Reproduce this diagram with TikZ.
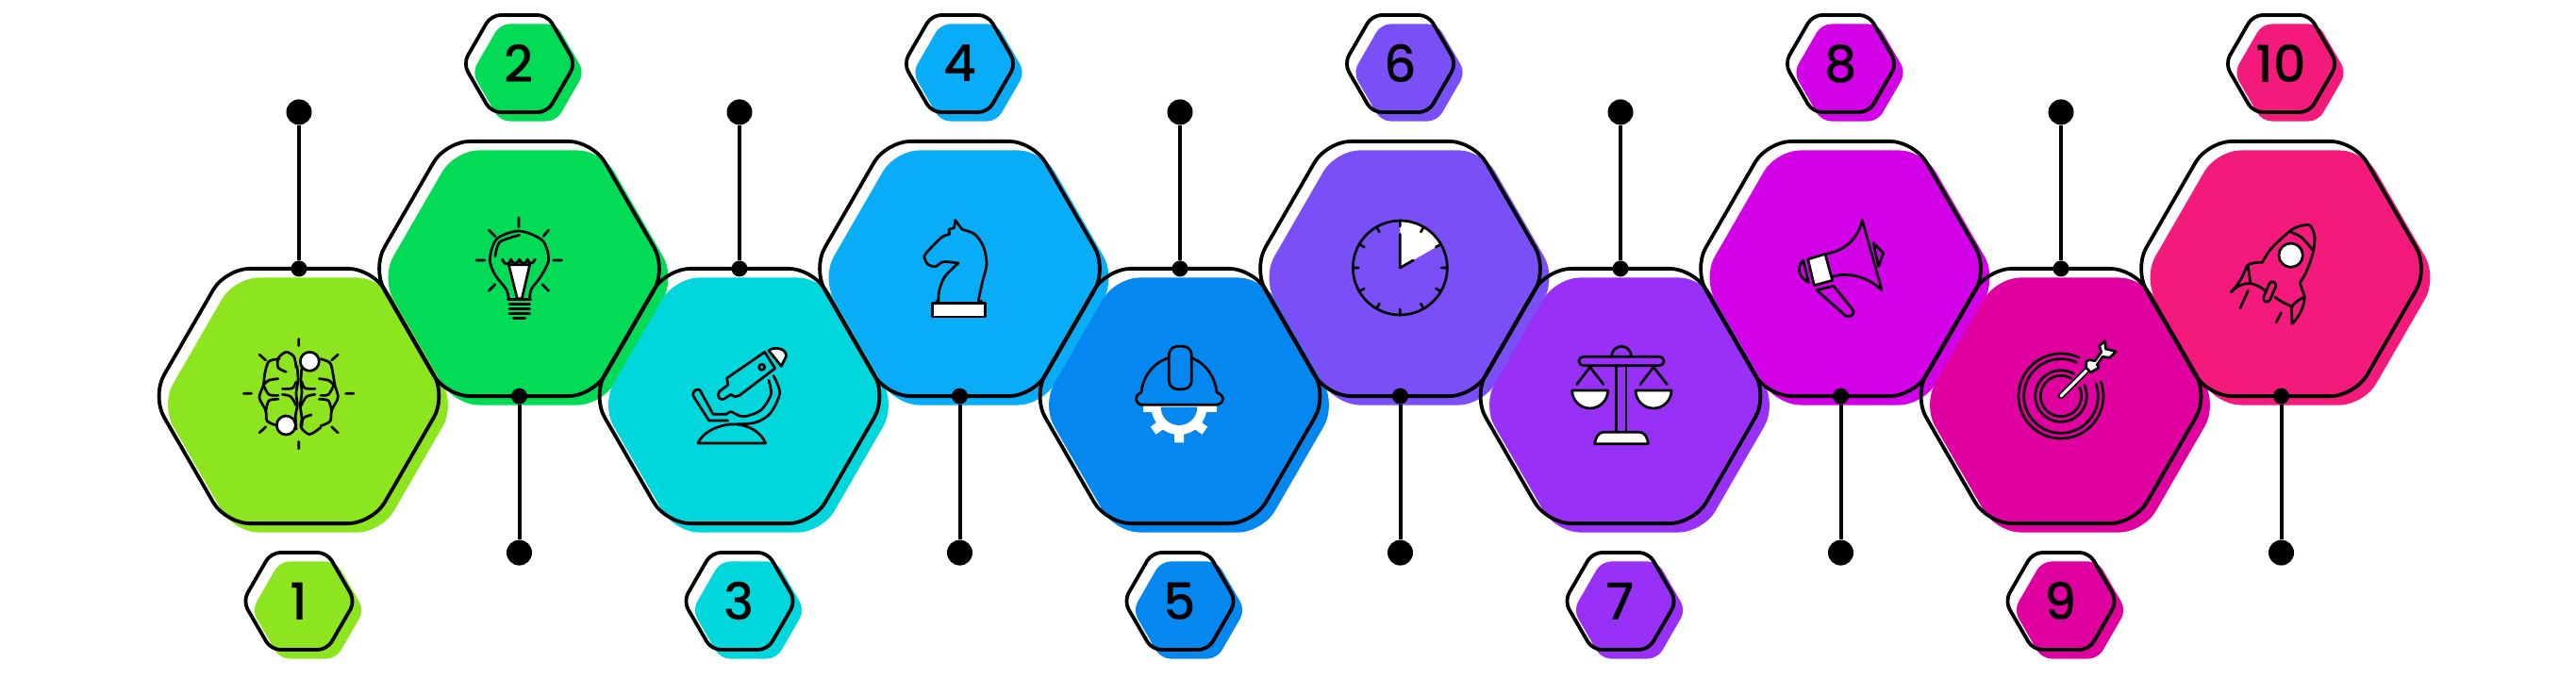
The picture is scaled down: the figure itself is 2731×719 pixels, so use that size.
\documentclass[tikz,border=0pt]{standalone}
\usepackage{fontspec}
\setmainfont{Poppins}[UprightFont=* Medium]
\usetikzlibrary{positioning, shapes.geometric}
\definecolor{hexLime}{HTML}{8CE51E}
\definecolor{hexGreen}{HTML}{01DB55}
\definecolor{hexCyan}{HTML}{00D7DD}
\definecolor{hexSky}{HTML}{08ACF7}
\definecolor{hexBlue}{HTML}{0487EE}
\definecolor{hexViolet}{HTML}{7A4FF7}
\definecolor{hexPurple}{HTML}{9830F7}
\definecolor{hexMagenta}{HTML}{D200E6}
\definecolor{hexPink}{HTML}{E0009F}
\definecolor{hexRose}{HTML}{F41A7C}

\begin{document}
\begin{tikzpicture}[
    x=1pt, y=-1pt,
    bighex/.style={regular polygon, regular polygon sides=6, minimum size=312pt,
                   inner sep=0pt, outer sep=0pt, rounded corners=26pt},
    smallhex/.style={regular polygon, regular polygon sides=6, minimum size=119pt,
                   inner sep=0pt, outer sep=0pt, rounded corners=10pt},
    hexfill/.style={bighex, fill=#1},
    hexline/.style={bighex, draw=black, line width=3.8pt, xshift=-9.5pt, yshift=9.5pt},
    tagfill/.style={smallhex, fill=#1},
    tagline/.style={smallhex, draw=black, line width=3.8pt, xshift=-9.5pt, yshift=9.5pt,
                    font=\fontsize{54}{54}\selectfont},
    hexup/.style={above right=135pt and 233.5pt of #1.center, anchor=center},
    hexdown/.style={below right=135pt and 233.5pt of #1.center, anchor=center},
    tagup/.style={above=217.5pt of #1.center, anchor=center},
    tagdown/.style={below=217.5pt of #1.center, anchor=center},
    pinsmall/.style={circle, fill=black, inner sep=0pt, minimum size=17pt},
    pinbig/.style={circle, fill=black, inner sep=0pt, minimum size=27pt},
    pinup/.style={pinbig, above=166pt of #1.center, anchor=center},
    pindown/.style={pinbig, below=166pt of #1.center, anchor=center},
    pinline/.style={line width=4pt, black},
    icon/.style args={#1,#2}{shift={(#1pt,-#2pt)}, x=0.3333pt, y=-0.3333pt,
                   line width=2.7pt, line cap=round, line join=round}
  ]
    \useasboundingbox (0,0) rectangle (2731,719);

    \node[hexfill=hexLime, at={(326.5,429.5)}] (f1) {};
    \node[hexfill=hexGreen, hexup=f1] (f2) {};
    \node[hexfill=hexCyan, hexdown=f2] (f3) {};
    \node[hexfill=hexSky, hexup=f3] (f4) {};
    \node[hexfill=hexBlue, hexdown=f4] (f5) {};
    \node[hexfill=hexViolet, hexup=f5] (f6) {};
    \node[hexfill=hexPurple, hexdown=f6] (f7) {};
    \node[hexfill=hexMagenta, hexup=f7] (f8) {};
    \node[hexfill=hexPink, hexdown=f8] (f9) {};
    \node[hexfill=hexRose, hexup=f9] (f10) {};

    \node[hexline] (h1) at (f1.center) {};
    \node[hexline] (h2) at (f2.center) {};
    \node[hexline] (h3) at (f3.center) {};
    \node[hexline] (h4) at (f4.center) {};
    \node[hexline] (h5) at (f5.center) {};
    \node[hexline] (h6) at (f6.center) {};
    \node[hexline] (h7) at (f7.center) {};
    \node[hexline] (h8) at (f8.center) {};
    \node[hexline] (h9) at (f9.center) {};
    \node[hexline] (h10) at (f10.center) {};

    \node[tagfill=hexLime, tagdown=f1] (t1) {};
    \node[tagfill=hexGreen, tagup=f2] (t2) {};
    \node[tagfill=hexCyan, tagdown=f3] (t3) {};
    \node[tagfill=hexSky, tagup=f4] (t4) {};
    \node[tagfill=hexBlue, tagdown=f5] (t5) {};
    \node[tagfill=hexViolet, tagup=f6] (t6) {};
    \node[tagfill=hexPurple, tagdown=f7] (t7) {};
    \node[tagfill=hexMagenta, tagup=f8] (t8) {};
    \node[tagfill=hexPink, tagdown=f9] (t9) {};
    \node[tagfill=hexRose, tagup=f10] (t10) {};

    \node[tagline] (n1) at (t1.center) {1};
    \node[tagline] (n2) at (t2.center) {2};
    \node[tagline] (n3) at (t3.center) {3};
    \node[tagline] (n4) at (t4.center) {4};
    \node[tagline] (n5) at (t5.center) {5};
    \node[tagline] (n6) at (t6.center) {6};
    \node[tagline] (n7) at (t7.center) {7};
    \node[tagline] (n8) at (t8.center) {8};
    \node[tagline] (n9) at (t9.center) {9};
    \node[tagline] (n10) at (t10.center) {10};

    \node[pinsmall] (d1) at (h1.north) {};
    \node[pinsmall] (d2) at (h2.south) {};
    \node[pinsmall] (d3) at (h3.north) {};
    \node[pinsmall] (d4) at (h4.south) {};
    \node[pinsmall] (d5) at (h5.north) {};
    \node[pinsmall] (d6) at (h6.south) {};
    \node[pinsmall] (d7) at (h7.north) {};
    \node[pinsmall] (d8) at (h8.south) {};
    \node[pinsmall] (d9) at (h9.north) {};
    \node[pinsmall] (d10) at (h10.south) {};

    \node[pinup=d1] (e1) {};
    \node[pindown=d2] (e2) {};
    \node[pinup=d3] (e3) {};
    \node[pindown=d4] (e4) {};
    \node[pinup=d5] (e5) {};
    \node[pindown=d6] (e6) {};
    \node[pinup=d7] (e7) {};
    \node[pindown=d8] (e8) {};
    \node[pinup=d9] (e9) {};
    \node[pindown=d10] (e10) {};

    \draw[pinline] (d1) -- (e1);
    \draw[pinline] (d2) -- (e2);
    \draw[pinline] (d3) -- (e3);
    \draw[pinline] (d4) -- (e4);
    \draw[pinline] (d5) -- (e5);
    \draw[pinline] (d6) -- (e6);
    \draw[pinline] (d7) -- (e7);
    \draw[pinline] (d8) -- (e8);
    \draw[pinline] (d9) -- (e9);
    \draw[pinline] (d10) -- (e10);

    % brain
    \begin{scope}[icon={240,340}]
      \draw (230,58) -- (230,80) (230,385) -- (230,408) (55,232) -- (80,232) (380,232) -- (405,232)
            (105,108) -- (125,126) (355,108) -- (335,126) (105,357) -- (125,338) (355,357) -- (335,338);
      \draw plot[smooth] coordinates {(222,150)(215,115)(190,100)(165,120)(165,150)(190,163)};
      \draw plot[smooth] coordinates {(168,122)(135,130)(122,170)(118,205)(105,245)(125,285)(130,320)(165,335)};
      \draw plot[smooth] coordinates {(165,185)(135,190)(118,205)};
      \draw plot[smooth] coordinates {(222,195)(210,215)(178,217)};
      \draw plot[smooth] coordinates {(118,205)(135,235)(165,238)};
      \draw plot[smooth] coordinates {(178,235)(205,242)(222,270)};
      \draw plot[smooth] coordinates {(165,250)(135,255)(125,290)};
      \draw plot[smooth] coordinates {(225,145)(228,190)(222,230)(226,270)(220,300)(222,345)};
      \draw plot[smooth] coordinates {(240,150)(237,190)(240,230)(235,270)(240,310)(238,340)(265,362)(300,340)};
      \draw plot[smooth] coordinates {(270,300)(245,310)(240,335)};
      \draw plot[smooth] coordinates {(300,122)(330,135)(340,175)(345,205)(355,245)(335,285)(330,320)(300,335)};
      \draw plot[smooth] coordinates {(295,185)(325,190)(342,205)};
      \draw plot[smooth] coordinates {(240,195)(250,215)(282,217)};
      \draw plot[smooth] coordinates {(342,205)(325,235)(300,238)};
      \draw plot[smooth] coordinates {(282,235)(255,242)(238,270)};
      \draw plot[smooth] coordinates {(295,250)(325,255)(335,290)};
      \draw[fill=white] (265,130) circle (30);
      \draw[fill=white] (190,333) circle (30);
    \end{scope}

    % bulb
    \begin{scope}[icon={480,210}]
      \draw (210,62) -- (210,92) (115,102) -- (135,122) (305,102) -- (288,122) (75,198) -- (102,198)
            (320,198) -- (347,198) (115,295) -- (135,275) (305,295) -- (285,275);
      \draw plot[smooth] coordinates {(178,320)(170,290)(135,245)(118,195)(140,130)(212,105)(285,135)(305,195)(280,250)(250,290)(245,320)};
      \draw (175,322) -- (248,322);
      \draw plot[smooth] coordinates {(135,185)(150,140)(212,118)};
      \draw[fill=white] (178,212) -- (205,320) -- (220,320) -- (245,212) -- cycle;
      \draw (158,195) .. controls (165,215) and (178,215) .. (185,195)
            .. controls (190,212) and (205,212) .. (212,195)
            .. controls (218,212) and (232,212) .. (238,195)
            .. controls (243,212) and (255,212) .. (262,195);
      \draw (180,337) -- (245,337) (180,352) -- (245,352) (180,367) -- (245,367) (193,382) -- (230,382);
    \end{scope}

    % microscope
    \begin{scope}[icon={710,340}]
      \draw (302,100) -- (182,183) -- (185,205) -- (158,225) .. controls (148,240) and (160,255) .. (172,250)
            -- (195,235) .. controls (205,245) and (215,242) .. (222,238) -- (335,152) -- cycle;
      \draw (293,148) circle (9);
      \draw[fill=white] (315,95) .. controls (335,80) and (375,90) .. (370,115) -- (355,145) -- cycle;
      \draw plot[smooth] coordinates {(330,175)(350,230)(320,295)(270,325)(190,330)};
      \draw plot[smooth] coordinates {(315,190)(322,235)(290,285)(240,305)(215,300)(195,290)(180,298)};
      \draw (180,298) -- (138,298) -- (100,228) .. controls (95,210) and (70,220) .. (75,240) -- (125,318) -- (185,318);
      \draw (90,390) .. controls (105,355) and (150,335) .. (190,330) (305,390) .. controls (290,355) and (255,335) .. (215,330)
            (90,390) -- (305,390);
    \end{scope}

    % knight
    \begin{scope}[icon={950,210}]
      \draw[fill=white] (115,335) rectangle (283,378);
      \draw plot[smooth] coordinates {(135,325)(137,295)(155,250)(198,207)};
      \draw plot[smooth] coordinates {(198,207)(150,203)(125,218)(100,210)(90,185)(105,165)(145,125)(170,115)};
      \draw (170,115) -- (168,100) -- (185,95) -- (188,70) -- (210,100);
      \draw plot[smooth] coordinates {(210,100)(250,115)(278,155)(288,210)(275,265)(262,325)};
      \draw (128,327) -- (136,327) (262,327) -- (272,327);
    \end{scope}

    % helmet
    \begin{scope}[icon={1180,340}]
      \fill[white] (95,270) rectangle (330,290);
      \fill[white] (122,275) arc (180:0:88) -- cycle;
      \draw[white, line width=10pt, line cap=butt] (210,330) -- (210,388) (170,320) -- (128,350) (250,320) -- (292,350);
      \fill[hexBlue] (152,275) arc (180:0:58) -- cycle;
      \draw (178,118) .. controls (125,135) and (95,180) .. (90,228) .. controls (65,240) and (70,262) .. (90,268)
            -- (330,268) .. controls (355,262) and (358,240) .. (330,228) .. controls (325,180) and (295,135) .. (248,118);
      \draw[rounded corners=9pt] (178,82) rectangle (250,218);
    \end{scope}

    % clock
    \begin{scope}[icon={1415,210}]
      \fill[white] (208,222) -- (208,72) arc (-90:-30:150) -- cycle;
      \draw (208,222) circle (150);
      \draw (340,222) -- (358,222) (322,156) -- (338,147) (274,108) -- (283,92) (208,90) -- (208,72)
            (142,108) -- (133,92) (94,156) -- (78,147) (76,222) -- (58,222) (94,288) -- (78,297)
            (142,336) -- (133,352) (208,354) -- (208,372) (274,336) -- (283,352) (322,288) -- (338,297);
      \draw (250,198) -- (208,222) -- (208,115);
    \end{scope}

    % scales
    \begin{scope}[icon={1650,340}]
      \draw[rounded corners=4.5pt] (72,115) rectangle (342,143);
      \draw (176,113) arc (180:360:31);
      \draw (190,143) -- (190,352) (222,143) -- (222,352);
      \draw[fill=white] (122,392) .. controls (125,370) and (135,355) .. (150,355) -- (265,355)
            .. controls (280,355) and (290,370) .. (292,392) -- cycle;
      \draw[fill=white] (50,222) -- (164,222) arc (0:180:57) -- cycle;
      \draw[fill=white] (252,222) -- (366,222) arc (0:180:57) -- cycle;
      \draw (65,203) -- (107,148) -- (150,203) (267,203) -- (309,148) -- (352,203);
    \end{scope}

    % megaphone
    \begin{scope}[icon={1880,210}]
      \draw[fill=white] (110,195) -- (165,178) -- (188,262) -- (130,278) -- cycle;
      \draw (165,178) .. controls (225,170) and (270,130) .. (283,70) -- (345,293)
            .. controls (300,250) and (240,235) .. (188,250);
      \draw (95,198) .. controls (70,225) and (85,255) .. (112,268) -- cycle;
      \draw (318,143) -- (350,175) -- (335,217) -- cycle;
      \draw (138,293) -- (192,280) -- (255,358) .. controls (260,372) and (240,382) .. (230,375) -- cycle;
    \end{scope}

    % target
    \begin{scope}[icon={2115,340}]
      \draw (210,240) ++(-65:135) arc (-65:-380:135);
      \draw (210,240) ++(-65:118) arc (-65:-380:118);
      \draw (210,240) ++(-60:82) arc (-60:-385:82);
      \draw (210,240) ++(-60:65) arc (-60:-385:65);
      \draw[line width=6.5pt] (210,240) -- (300,150);
      \draw[white, line width=3pt] (210,240) -- (300,150);
      \draw[fill=white] (300,125) -- (318,128) -- (338,100) -- (332,80) -- (350,65) -- (352,90) -- (385,98)
            -- (365,118) -- (342,115) -- (325,140) -- (330,150) -- (305,165) -- (290,150) -- (290,130) -- cycle;
    \end{scope}

    % rocket
    \begin{scope}[icon={2350,210}]
      \draw plot[smooth] coordinates {(145,205)(170,165)(205,130)(240,100)(270,88)(298,88)(312,125)(305,180)(285,235)(265,270)};
      \draw plot[smooth] coordinates {(235,108)(270,125)(305,165)};
      \draw[fill=white] (236,182) circle (38);
      \draw (145,205) .. controls (125,205) and (105,205) .. (95,218) .. controls (85,250) and (65,280) .. (45,300)
            .. controls (65,280) and (85,270) .. (108,272) -- (100,218);
      \draw (108,272) .. controls (125,275) and (145,285) .. (158,298);
      \draw (185,315) .. controls (205,330) and (225,340) .. (240,345);
      \draw (265,270) -- (280,315) .. controls (262,322) and (245,335) .. (238,348) -- (240,400)
            .. controls (265,375) and (278,345) .. (280,315);
      \draw[rounded corners=4pt] (172,262) -- (192,272) -- (165,335) -- (145,325) -- cycle;
      \draw (100,295) -- (75,350) (205,365) -- (190,395);
    \end{scope}
  \end{tikzpicture}
\end{document}
